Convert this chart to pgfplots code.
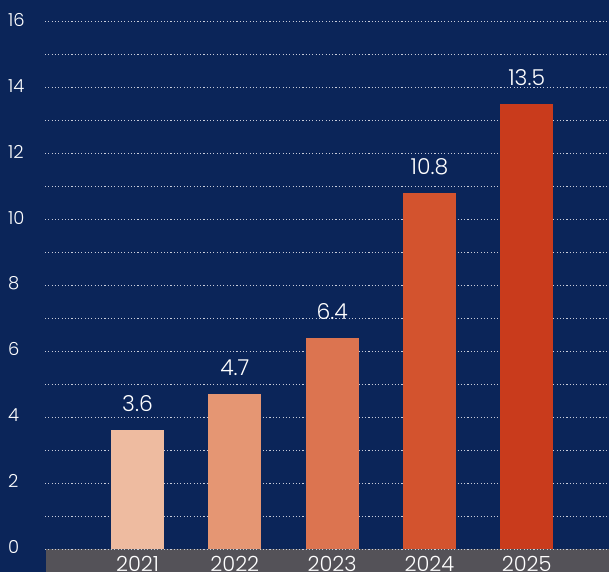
\documentclass[border=0pt]{standalone}
\usepackage{pgfplots}
\pgfplotsset{compat=1.18}
\usepackage{fontspec}
\setmainfont{Poppins}[UprightFont=* Light]
\definecolor{bg}{HTML}{0B2559}
\definecolor{strip}{HTML}{545258}
\definecolor{gridc}{HTML}{C8CCDA}
\definecolor{cA}{HTML}{EEBBA0}
\definecolor{cB}{HTML}{E59673}
\definecolor{cC}{HTML}{DC7450}
\definecolor{cD}{HTML}{D3532E}
\definecolor{cE}{HTML}{C93B1C}
\begin{document}
\begin{tikzpicture}
\useasboundingbox (-45bp,-23bp) rectangle (564bp,549bp);
\fill[bg] (-45bp,-23bp) rectangle (564bp,549bp);
\fill[strip] (1bp,-23bp) rectangle (564bp,0);
\begin{axis}[
  scale only axis, width=564bp, height=527bp,
  xmin=-0.951, xmax=4.846, ymin=0, ymax=16,
  axis line style={draw=none},
  major tick length=0pt, minor tick length=0pt,
  /pgf/number format/assume math mode=true,
  ytick={0,2,...,16}, minor ytick={1,3,...,15},
  ymajorgrids, yminorgrids,
  major grid style={gridc, line width=1bp, dash pattern=on 1.1bp off 2.2bp},
  minor grid style={gridc, line width=1bp, dash pattern=on 1.1bp off 2.2bp},
  xtick={0,1,2,3,4}, xticklabels={2021,2022,2023,2024,2025},
  xticklabel style={text=white, font=\fontsize{21}{21}\selectfont, anchor=base, inner sep=0pt, yshift=-22bp},
  yticklabel style={text=white, font=\fontsize{18}{18}\selectfont, anchor=west, inner sep=0pt, xshift=-37bp, yshift=2bp},
  ybar, bar width=53bp, bar shift=0pt,
  nodes near coords,
  nodes near coords style={text=white, font=\fontsize{22}{22}\selectfont, anchor=base, inner sep=0pt, yshift=19bp,
    /pgf/number format/assume math mode=true, /pgf/number format/fixed, /pgf/number format/precision=1},
  every axis plot/.append style={draw=none},
]
\addplot[fill=cA] coordinates {(0,3.6)};
\addplot[fill=cB] coordinates {(1,4.7)};
\addplot[fill=cC] coordinates {(2,6.4)};
\addplot[fill=cD] coordinates {(3,10.8)};
\addplot[fill=cE] coordinates {(4,13.5)};
\end{axis}
\end{tikzpicture}
\end{document}
